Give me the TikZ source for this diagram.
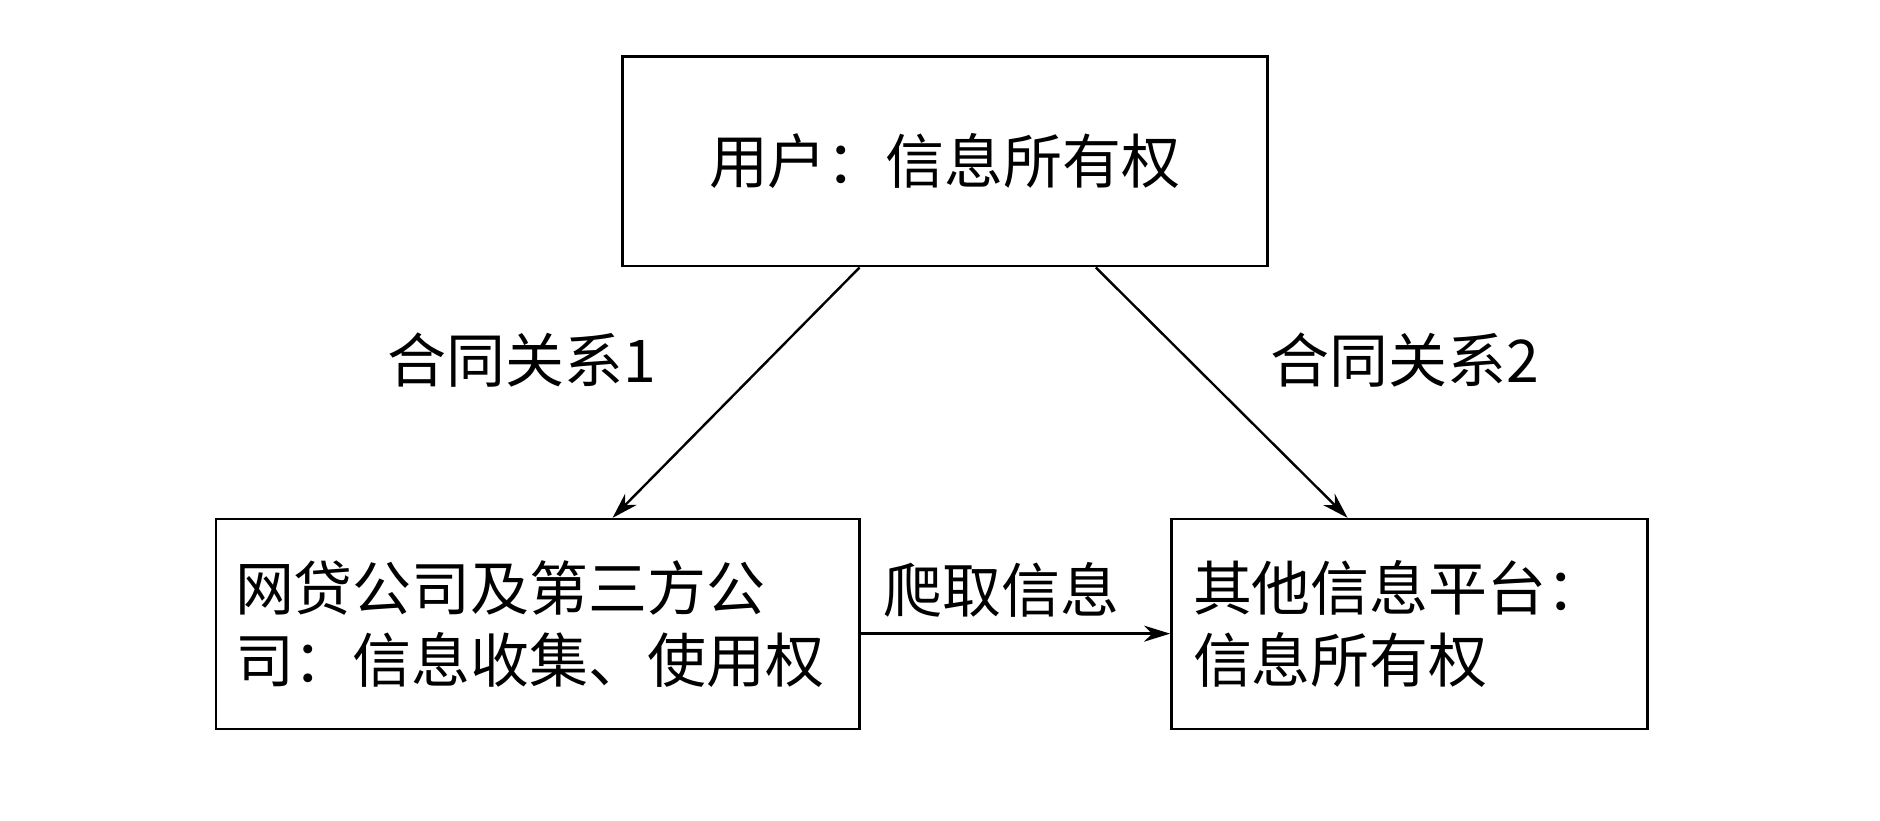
\documentclass[tikz,border=0pt]{standalone}
\usepackage{fontspec}
\newfontfamily\cjk{Noto Sans CJK SC}
\usetikzlibrary{arrows.meta,calc}
\begin{document}
\begin{tikzpicture}[x=0.6pt,y=0.6pt,
  box/.style={draw,line width=1.3pt,inner sep=0pt,font=\cjk\fontsize{29.5}{36}\selectfont},
  lbl/.style={font=\cjk\fontsize{29.5}{30}\selectfont},
  arr/.style={line width=1.2pt,-{Stealth[length=13pt,width=8pt,inset=4pt]}}]
\useasboundingbox (0,0) rectangle (1568,684);
\node[box,minimum width=538*0.6pt,minimum height=175*0.6pt] (top) at (788,549.5) {用户：信息所有权};
\node[box,minimum width=537*0.6pt,minimum height=175*0.6pt,align=left,text width=505*0.6pt] (left) at (448.5,163.5) {网贷公司及第三方公\\司：信息收集、使用权};
\node[box,minimum width=397*0.6pt,minimum height=175*0.6pt,align=left,text width=361*0.6pt] (right) at (1175.5,163.5) {其他信息平台：\\信息所有权};
\draw[arr] ($(top.south west)+(199,0)$) -- ($(left.north west)+(332,0)$);
\draw[arr] ($(top.south west)+(396,0)$) -- ($(right.north west)+(148,0)$);
\draw[arr] ($(left.east)+(0,-8)$) -- ($(right.west)+(0,-8)$);
\node[lbl] (l1) at (435,384) {合同关系1};
\node[lbl] (l2) at (1172,384) {合同关系2};
\node[lbl] (l3) at (835,192) {爬取信息};
\end{tikzpicture}
\end{document}
